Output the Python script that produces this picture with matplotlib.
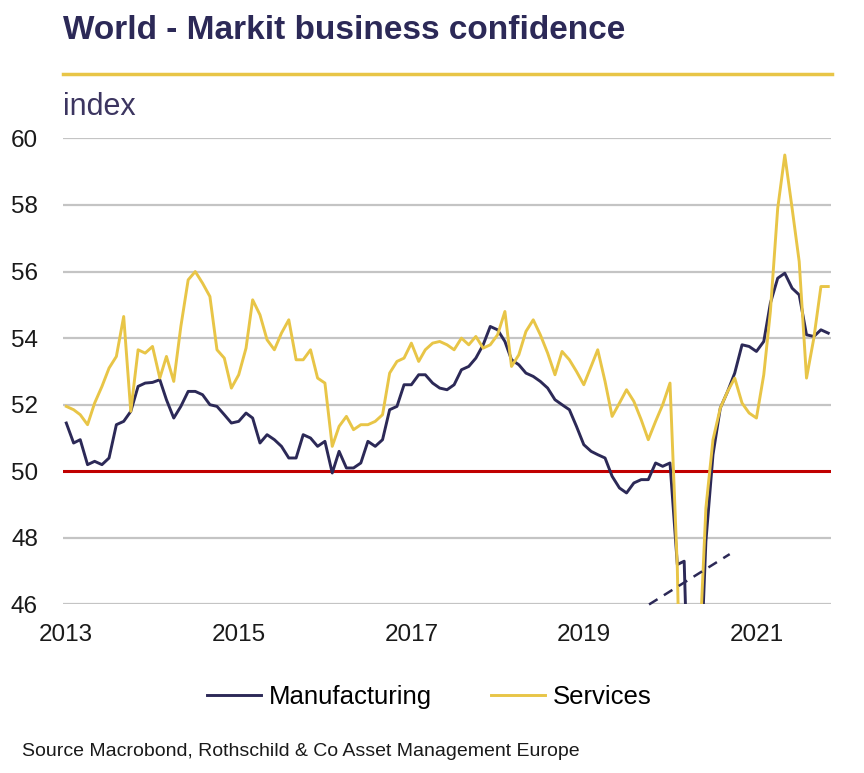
import matplotlib

matplotlib.use('Agg')
import matplotlib.pyplot as plt  # noqa: E402
import pandas as pd  # noqa: E402

plt.rcParams['font.family'] = ['Liberation Sans', 'DejaVu Sans']

NAVY = '#2c2957'
GOLD = '#e8c547'
RED = '#c00000'
GRID = '#c4c4c4'

dates = pd.date_range('2013-01-01', periods=107, freq='MS')

manufacturing = [
    51.45, 50.85, 50.95, 50.2, 50.3, 50.2, 50.4, 51.4, 51.5, 51.8, 52.55, 52.65,
    52.67, 52.75, 52.15, 51.6, 51.95, 52.4, 52.4, 52.3, 52.0, 51.95, 51.7, 51.45,
    51.5, 51.75, 51.6, 50.85, 51.1, 50.95, 50.75, 50.4, 50.4, 51.1, 51.0, 50.75,
    50.9, 49.95, 50.6, 50.1, 50.1, 50.25, 50.9, 50.75, 50.95, 51.85, 51.95, 52.6,
    52.6, 52.9, 52.9, 52.65, 52.5, 52.45, 52.6, 53.05, 53.15, 53.4, 53.8, 54.35,
    54.25, 53.9, 53.35, 53.2, 52.95, 52.85, 52.7, 52.5, 52.15, 52.0, 51.85, 51.35,
    50.8, 50.6, 50.5, 50.4, 49.85, 49.5, 49.35, 49.65, 49.75, 49.75, 50.25, 50.15,
    50.25, 47.2, 47.3, 39.8, 42.4, 47.9, 50.5, 51.9, 52.4, 52.95, 53.8, 53.75,
    53.6, 53.9, 55.05, 55.8, 55.95, 55.5, 55.3, 54.1, 54.05, 54.25, 54.15,
]

services = [
    51.95, 51.85, 51.7, 51.4, 52.05, 52.55, 53.1, 53.45, 54.65, 51.8, 53.65, 53.55,
    53.75, 52.8, 53.45, 52.7, 54.35, 55.75, 56.0, 55.65, 55.25, 53.65, 53.4, 52.5,
    52.9, 53.7, 55.15, 54.7, 53.95, 53.65, 54.15, 54.55, 53.35, 53.35, 53.65, 52.8,
    52.65, 50.75, 51.35, 51.65, 51.25, 51.4, 51.4, 51.5, 51.7, 52.95, 53.3, 53.4,
    53.85, 53.3, 53.65, 53.85, 53.9, 53.8, 53.65, 54.0, 53.8, 54.05, 53.7, 53.8,
    54.1, 54.8, 53.15, 53.5, 54.2, 54.55, 54.1, 53.55, 52.9, 53.6, 53.35, 53.0,
    52.6, 53.15, 53.65, 52.7, 51.65, 52.05, 52.45, 52.1, 51.55, 50.95, 51.5, 52.0,
    52.65, 47.1, 37.0, 23.7, 44.0, 48.9, 50.95, 51.9, 52.4, 52.8, 52.05, 51.75,
    51.6, 52.9, 54.8, 57.9, 59.5, 57.9, 56.3, 52.8, 54.0, 55.55, 55.55,
]

year_ticks = ['2013', '2015', '2017', '2019', '2021']
y_ticks = [46, 48, 50, 52, 54, 56, 58, 60]

fig = plt.figure(figsize=(8.64, 7.73), dpi=100)
ax = fig.add_axes([0.0729, 0.218, 0.889, 0.603])

for y in y_ticks:
    if y != 50:
        ax.axhline(y, color=GRID, lw=1.6, zorder=1)
ax.axhline(50, color=RED, lw=2.2, zorder=2)

ax.plot(dates, manufacturing, color=NAVY, lw=2.1, label='Manufacturing', zorder=3)
ax.plot(dates, services, color=GOLD, lw=2.1, label='Services', zorder=4)

# broken-scale marker near the 2020 drop
ax.plot([0.763, 0.868], [0.0, 0.108], transform=ax.transAxes, color=NAVY,
        lw=1.8, ls=(0, (4, 3)), zorder=5, clip_on=False)

ax.set_ylim(46, 60)
ax.set_xlim(pd.Timestamp('2012-12-18'), pd.Timestamp('2021-11-13'))
ax.set_yticks(y_ticks)
ax.set_xticks([pd.Timestamp(f'{y}-01-01') for y in year_ticks])
ax.set_xticklabels(year_ticks)
ax.tick_params(length=0, labelsize=17.5, colors='#1a1a1a')
ax.tick_params(axis='x', pad=14)
ax.tick_params(axis='y', pad=18)
for s in ax.spines.values():
    s.set_visible(False)

fig.text(0.0729, 0.9605, 'World - Markit business confidence', fontsize=24,
         fontweight='bold', color=NAVY, va='center', ha='left')
fig.add_artist(plt.Line2D([0.0729, 0.963], [0.904, 0.904], color=GOLD, lw=2.5))
fig.text(0.0729, 0.862, 'index', fontsize=22, color='#3c3560', va='center', ha='left')

ax.legend(loc='center', bbox_to_anchor=(0.497, 0.0977), bbox_transform=fig.transFigure,
          ncol=2, frameon=False, fontsize=18.5, handlelength=2.1, handletextpad=0.3,
          columnspacing=2.3)

fig.text(0.025, 0.0275, 'Source Macrobond, Rothschild & Co Asset Management Europe',
         fontsize=14, color='#1a1a1a', va='center', ha='left')

fig.savefig('out.png', dpi=100)
plt.close(fig)
